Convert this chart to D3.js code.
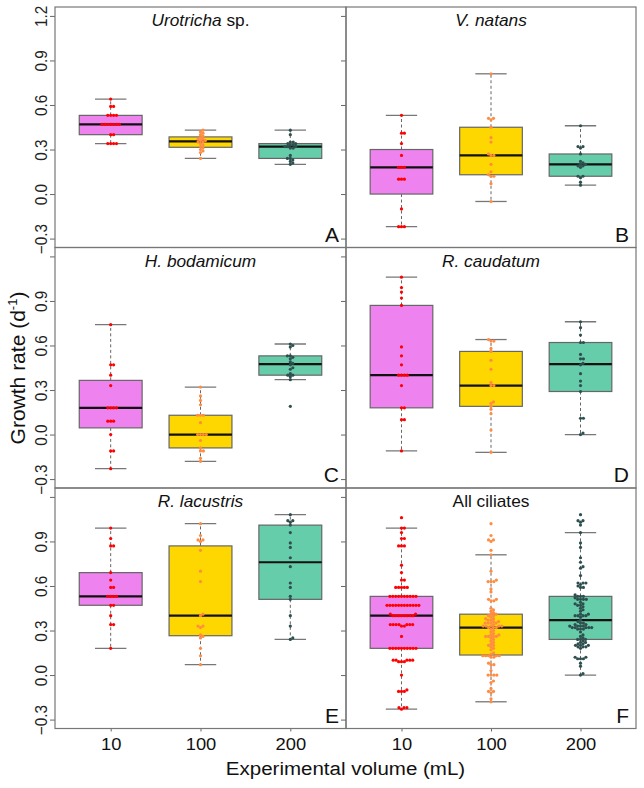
<!DOCTYPE html>
<html>
<head>
<meta charset="utf-8">
<script src="https://cdn.jsdelivr.net/npm/d3@7"></script>
<style>
  body { margin: 0; background: #fff; }
  text { font-family: "Liberation Sans", Arial, sans-serif; }
</style>
</head>
<body>
<div id="chart"></div>
<script>
// growth rates (d-1), one array per volume: 10, 100, 200 mL
const volumes = ["10", "100", "200"];
const urotricha = [
  [0.64, 0.59, 0.59, 0.53, 0.53, 0.53, 0.53, 0.47, 0.47, 0.47, 0.47, 0.47, 0.47, 0.47, 0.40, 0.40, 0.34, 0.34, 0.34, 0.34],
  [0.43, 0.42, 0.41, 0.40, 0.39, 0.38, 0.37, 0.37, 0.36, 0.36, 0.35, 0.35, 0.34, 0.33, 0.32, 0.31, 0.30, 0.29, 0.28, 0.24],
  [0.43, 0.40, 0.35, 0.35, 0.34, 0.34, 0.33, 0.33, 0.32, 0.32, 0.32, 0.31, 0.31, 0.26, 0.24, 0.24, 0.23, 0.22, 0.21, 0.20]
];
const vnatans = [
  [0.53, 0.41, 0.41, 0.34, 0.26, 0.18, 0.18, 0.18, 0.10, 0.10, 0.10, -0.10, -0.22, -0.22, -0.22],
  [0.81, 0.51, 0.51, 0.50, 0.45, 0.38, 0.35, 0.27, 0.26, 0.26, 0.20, 0.15, 0.13, 0.12, 0.12, 0.07, -0.05],
  [0.46, 0.32, 0.32, 0.31, 0.27, 0.22, 0.21, 0.20, 0.20, 0.19, 0.19, 0.18, 0.12, 0.12, 0.11, 0.08, 0.06]
];
const hbodamicum = [
  [0.74, 0.47, 0.47, 0.40, 0.33, 0.18, 0.18, 0.18, 0.18, 0.09, 0.09, 0.09, 0.00, -0.11, -0.11, -0.23],
  [0.32, 0.26, 0.23, 0.20, 0.13, 0.13, 0.13, 0.08, 0.00, 0.00, 0.00, 0.00, -0.04, -0.09, -0.11, -0.11, -0.16, -0.18],
  [0.61, 0.60, 0.59, 0.53, 0.53, 0.52, 0.51, 0.49, 0.48, 0.47, 0.45, 0.44, 0.41, 0.40, 0.40, 0.39, 0.37, 0.19]
];
const rcaudatum = [
  [1.06, 0.99, 0.96, 0.92, 0.87, 0.59, 0.53, 0.47, 0.40, 0.40, 0.40, 0.40, 0.33, 0.18, 0.18, 0.10, 0.10, -0.11],
  [0.64, 0.63, 0.63, 0.58, 0.56, 0.50, 0.44, 0.35, 0.33, 0.33, 0.22, 0.21, 0.19, 0.17, 0.14, 0.03, -0.12],
  [0.76, 0.72, 0.67, 0.62, 0.62, 0.54, 0.51, 0.51, 0.48, 0.47, 0.41, 0.36, 0.33, 0.29, 0.11, 0.11, 0.01, 0.00]
];
const rlacustris = [
  [0.99, 0.92, 0.87, 0.87, 0.69, 0.64, 0.59, 0.59, 0.53, 0.53, 0.53, 0.53, 0.47, 0.47, 0.40, 0.34, 0.34, 0.18],
  [1.02, 0.94, 0.91, 0.91, 0.90, 0.84, 0.70, 0.63, 0.41, 0.40, 0.33, 0.33, 0.32, 0.27, 0.26, 0.25, 0.18, 0.13, 0.07],
  [1.08, 1.04, 1.04, 1.03, 1.01, 0.96, 0.89, 0.86, 0.79, 0.73, 0.62, 0.59, 0.53, 0.51, 0.40, 0.33, 0.25, 0.24]
];
const species = [urotricha, vnatans, hbodamicum, rcaudatum, rlacustris];
// all ciliates = every species pooled per volume
const allCiliates = volumes.map((v, i) => d3.merge(species.map(s => s[i])));

const panels = [urotricha, vnatans, hbodamicum, rcaudatum, rlacustris, allCiliates];
const titles = [["Urotricha", " sp."], ["V. natans", ""], ["H. bodamicum", ""],
                ["R. caudatum", ""], ["R. lacustris", ""], ["", "All ciliates"]];
const letters = ["A", "B", "C", "D", "E", "F"];
const yTicks = [-0.3, 0.0, 0.3, 0.6, 0.9, 1.2];

const boxFill = ["#EE82EE", "#FFD700", "#66CDAA"];
const dotFill = ["#FF0000", "#FF8C42", "#2F4F4F"];

const W = 644, H = 788;
const colLeft = [55, 346], colW = [291, 290];
const rowTop = [7, 247.5, 488], rowH = 240.5;
const stretch = 1.08; // the picture is a bit wider than tall

const svg = d3.select("#chart").append("svg")
    .attr("width", W)
    .attr("height", H);

// R style five number summary (Tukey hinges)
function fivenum(a) {
  const x = a.slice().sort(d3.ascending), n = x.length;
  const n4 = Math.floor((n + 3) / 2) / 2;
  return [1, n4, (n + 1) / 2, n + 1 - n4, n]
    .map(v => 0.5 * (x[Math.floor(v) - 1] + x[Math.ceil(v) - 1]));
}

// simple swarm: place each point as close to the centre as possible
function swarm(vals, y, d) {
  const pts = vals.slice().sort(d3.ascending).map(v => ({v: v, py: y(v), x: 0}));
  const placed = [];
  pts.forEach(p => {
    let cands = [0];
    placed.forEach(q => {
      const dy = p.py - q.py;
      if (Math.abs(dy) < d) {
        const dx = Math.sqrt(d * d - dy * dy);
        cands.push(q.x + dx, q.x - dx);
      }
    });
    cands = cands.filter(c => placed.every(q =>
      (c - q.x) * (c - q.x) + (p.py - q.py) * (p.py - q.py) >= d * d - 1e-6));
    cands.sort((a, b) => Math.abs(a) - Math.abs(b));
    p.x = cands[0];
    placed.push(p);
  });
  return pts;
}

panels.forEach((groups, i) => {
  const col = i % 2, row = Math.floor(i / 2);
  const w = colW[col], h = rowH;
  const g = svg.append("g")
      .attr("transform", "translate(" + colLeft[col] + "," + rowTop[row] + ")");

  const x = d3.scaleLinear().domain([0.38, 3.62]).range([0, w]);
  const y = d3.scaleLinear().domain([-0.36, 1.26]).range([h, 0]);

  // y axis ticks (labels only in the left column)
  const yAxis = d3.axisLeft(y).tickValues(yTicks).tickSize(5).tickSizeOuter(0)
      .tickFormat(col === 0 ? d3.format(".1f") : "");
  const ya = g.append("g").call(yAxis);
  ya.select(".domain").remove();
  ya.selectAll("line").attr("stroke", "#666");
  ya.selectAll("text")
      .attr("transform", "translate(-8,0) rotate(-90) scale(" + (1 / stretch) + ",1)")
      .attr("x", 0).attr("y", 0).attr("dy", 0)
      .attr("text-anchor", "middle")
      .attr("fill", "#222")
      .style("font-size", "16.5px")
      .filter(d => d === 1.2 && row > 0).remove();

  if (row === 2) {
    const xa = g.append("g")
        .attr("transform", "translate(0," + h + ")")
        .call(d3.axisBottom(x).tickValues([1, 2, 3]).tickSize(3).tickSizeOuter(0)
          .tickFormat(d => volumes[d - 1]));
    xa.select(".domain").remove();
    xa.selectAll("line").attr("stroke", "#666");
    xa.selectAll("text").attr("fill", "#111").attr("dy", 0).attr("y", 0)
        .attr("transform", "translate(0,21) scale(" + stretch + ",1)")
        .style("font-size", "17px");
  }

  // boxes
  groups.forEach((vals, j) => {
    const f = fivenum(vals), iqr = f[3] - f[1];
    const lo = d3.min(vals.filter(v => v >= f[1] - 1.5 * iqr));
    const hi = d3.max(vals.filter(v => v <= f[3] + 1.5 * iqr));
    const cx = x(j + 1);
    const bw = x(1.35) - x(1), sw = x(1.175) - x(1);
    const bx = g.append("g");
    bx.selectAll(".whisker")
      .data([[f[1], lo], [f[3], hi]])
      .join("line")
      .attr("x1", cx).attr("x2", cx)
      .attr("y1", d => y(d[0])).attr("y2", d => y(d[1]))
      .attr("stroke", "#666").attr("stroke-dasharray", "3,2.5");
    bx.selectAll(".staple")
      .data([lo, hi])
      .join("line")
      .attr("x1", cx - sw).attr("x2", cx + sw)
      .attr("y1", d => y(d)).attr("y2", d => y(d))
      .attr("stroke", "#777").attr("stroke-width", 1.3);
    bx.append("rect")
      .attr("x", cx - bw).attr("width", 2 * bw)
      .attr("y", y(f[3])).attr("height", y(f[1]) - y(f[3]))
      .attr("fill", boxFill[j]).attr("stroke", "#666").attr("stroke-width", 1.2);
    bx.append("line")
      .attr("x1", cx - bw).attr("x2", cx + bw)
      .attr("y1", y(f[2])).attr("y2", y(f[2]))
      .attr("stroke", "#111").attr("stroke-width", 2.2);
  });

  // swarm points
  groups.forEach((vals, j) => {
    const cx = x(j + 1);
    g.append("g").selectAll("circle")
      .data(swarm(vals, y, 2.9))
      .join("circle")
      .attr("cx", d => cx + d.x)
      .attr("cy", d => d.py)
      .attr("r", 1.6)
      .attr("fill", dotFill[j]);
  });

  // frame
  g.append("rect")
    .attr("width", w).attr("height", h)
    .attr("fill", "none").attr("stroke", "#777").attr("stroke-width", 1.2);

  // title
  const t = g.append("text")
    .attr("transform", "translate(" + (w / 2) + ",19) scale(" + stretch + ",1)")
    .attr("text-anchor", "middle")
    .style("font-size", "16px").attr("fill", "#111");
  t.append("tspan").style("font-style", "italic").text(titles[i][0]);
  t.append("tspan").text(titles[i][1]);

  g.append("text")
    .attr("x", w - 7).attr("y", h - 6)
    .attr("text-anchor", "end")
    .style("font-size", "21px").attr("fill", "#111")
    .text(letters[i]);
});

// axis titles
const yl = svg.append("text")
  .attr("transform", "translate(25,368) rotate(-90)")
  .attr("text-anchor", "middle")
  .style("font-size", "21px").attr("fill", "#111");
yl.append("tspan").text("Growth rate (d");
yl.append("tspan").attr("dy", -8).style("font-size", "13px").text("-1");
yl.append("tspan").attr("dy", 8).text(")");

svg.append("text")
  .attr("transform", "translate(345.5,775) scale(" + stretch + ",1)")
  .attr("text-anchor", "middle")
  .style("font-size", "19px").attr("fill", "#111")
  .text("Experimental volume (mL)");
</script>
</body>
</html>
